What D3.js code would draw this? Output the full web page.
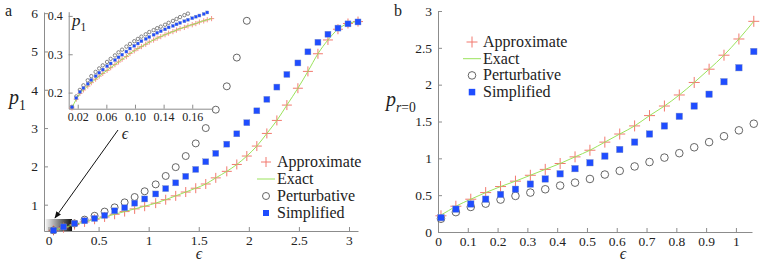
<!DOCTYPE html>
<html>
<head>
<meta charset="utf-8">
<script src="https://cdn.jsdelivr.net/npm/d3@7"></script>
<style>
  body { margin: 0; background: #fff; }
</style>
</head>
<body>
<svg id="chart" width="763" height="263"></svg>
<script>
// ---- panel a, main plot ----
const epsA = [0.05, 0.15, 0.26, 0.36, 0.46, 0.56, 0.66, 0.76, 0.86, 0.96, 1.07, 1.17, 1.27, 1.37, 1.47, 1.57,
  1.67, 1.78, 1.88, 1.98, 2.08, 2.18, 2.28, 2.38, 2.49, 2.59, 2.69, 2.79, 2.89, 2.99, 3.09];
const approxA = [0.33, 0.40, 0.48, 0.55, 0.62, 0.68, 0.75, 0.82, 0.89, 0.96, 1.04, 1.13, 1.23, 1.33, 1.43, 1.54,
  1.70, 1.87, 2.05, 2.27, 2.53, 2.86, 3.20, 3.60, 4.04, 4.48, 4.94, 5.30, 5.58, 5.73, 5.78];
const exactA = [0.33, 0.40, 0.48, 0.55, 0.62, 0.68, 0.75, 0.82, 0.89, 0.96, 1.04, 1.13, 1.23, 1.33, 1.43, 1.54,
  1.70, 1.87, 2.05, 2.27, 2.53, 2.86, 3.20, 3.60, 4.04, 4.48, 4.94, 5.30, 5.58, 5.73, 5.78];
const simplA = [0.33, 0.42, 0.51, 0.58, 0.64, 0.72, 0.84, 0.92, 1.04, 1.15, 1.28, 1.42, 1.57, 1.74, 1.92, 2.12,
  2.34, 2.58, 2.85, 3.14, 3.45, 3.75, 4.07, 4.40, 4.70, 4.99, 5.24, 5.45, 5.61, 5.72, 5.77];
const pertA = [0.33, 0.42, 0.51, 0.61, 0.71, 0.82, 0.93, 1.06, 1.20, 1.35, 1.53, 1.75, 1.98, 2.27, 2.60, 3.00,
  3.48, 4.09, 4.84, 5.80]; // only up to eps ~ 2
const ticksAX = [0, 0.5, 1, 1.5, 2, 2.5, 3];
const labelsAX = ["0", "0.5", "1", "1.5", "2", "2.5", "3"];
const ticksAY = [1, 2, 3, 4, 5, 6];
const labelsAY = ["1", "2", "3", "4", "5", "6"];

// ---- panel a, inset (small eps) ----
const epsI = [0.012, 0.018, 0.023, 0.028, 0.034, 0.039, 0.045, 0.050, 0.055, 0.061, 0.066, 0.072, 0.077,
  0.082, 0.088, 0.093, 0.099, 0.104, 0.109, 0.115, 0.120, 0.126, 0.131, 0.136, 0.142, 0.147, 0.153, 0.158,
  0.163, 0.169, 0.174, 0.180, 0.185, 0.190, 0.196, 0.201, 0.207];
const approxI = [0.160, 0.183, 0.198, 0.207, 0.217, 0.226, 0.235, 0.243, 0.250, 0.258, 0.265, 0.273, 0.280,
  0.287, 0.294, 0.302, 0.309, 0.315, 0.320, 0.326, 0.332, 0.337, 0.342, 0.346, 0.351, 0.355, 0.359, 0.363,
  0.367, 0.370, 0.374, 0.377, 0.380, 0.384, 0.387, 0.390, 0.393];
const simplI = [0.162, 0.186, 0.202, 0.212, 0.223, 0.233, 0.243, 0.252, 0.260, 0.269, 0.276, 0.285, 0.292,
  0.299, 0.307, 0.315, 0.322, 0.328, 0.334, 0.340, 0.345, 0.351, 0.356, 0.360, 0.365, 0.370, 0.374, 0.378,
  0.382, 0.386, 0.390, 0.394, 0.398, 0.401, 0.405, 0.409];
const pertI = [0.163, 0.190, 0.207, 0.219, 0.232, 0.243, 0.254, 0.263, 0.271, 0.280, 0.288, 0.297, 0.305,
  0.312, 0.320, 0.327, 0.334, 0.340, 0.346, 0.352, 0.358, 0.363, 0.368, 0.372, 0.377, 0.382, 0.387, 0.392,
  0.397, 0.402, 0.406];
const ticksIX = [0.02, 0.06, 0.10, 0.14, 0.18];
const labelsIX = ["0.02", "0.06", "0.10", "0.14", "0.16"];
const ticksIY = [0.2, 0.3, 0.4];
const labelsIY = ["0.2", "0.3", "0.4"];

// ---- panel b ----
const epsB = [0.01, 0.06, 0.11, 0.16, 0.21, 0.26, 0.31, 0.36, 0.41, 0.46, 0.51, 0.56, 0.61, 0.66, 0.71, 0.76,
  0.81, 0.86, 0.91, 0.96, 1.01, 1.06];
const approxB = [0.22, 0.35, 0.445, 0.535, 0.617, 0.69, 0.77, 0.85, 0.93, 1.02, 1.11, 1.22, 1.33, 1.44, 1.58,
  1.71, 1.86, 2.03, 2.21, 2.40, 2.62, 2.86];
const epsExactB = [0, 0.01, 0.06, 0.11, 0.16, 0.21, 0.26, 0.31, 0.36, 0.41, 0.46, 0.51, 0.56, 0.61, 0.66, 0.71,
  0.76, 0.81, 0.86, 0.91, 0.96, 1.01, 1.06];
const exactB = [0.21, 0.23, 0.35, 0.445, 0.535, 0.617, 0.69, 0.77, 0.85, 0.93, 1.02, 1.11, 1.22, 1.33, 1.44,
  1.58, 1.71, 1.86, 2.03, 2.21, 2.40, 2.62, 2.86];
const simplB = [0.195, 0.31, 0.38, 0.445, 0.51, 0.58, 0.65, 0.72, 0.79, 0.86, 0.94, 1.03, 1.12, 1.22, 1.33,
  1.44, 1.57, 1.71, 1.87, 2.04, 2.23, 2.45];
const pertB = [0.18, 0.27, 0.34, 0.385, 0.44, 0.49, 0.535, 0.58, 0.63, 0.67, 0.72, 0.78, 0.83, 0.89, 0.95,
  1.01, 1.07, 1.15, 1.22, 1.30, 1.38, 1.47];
const ticksBX = [0, 0.1, 0.2, 0.3, 0.4, 0.5, 0.6, 0.7, 0.8, 0.9, 1];
const labelsBX = ["0", "0.1", "0.2", "0.3", "0.4", "0.5", "0.6", "0.7", "0.8", "0.9", "1"];
const ticksBY = [0, 0.5, 1, 1.5, 2, 2.5, 3];
const labelsBY = ["0", "0.5", "1", "1.5", "2", "2.5", "3"];

const legendNames = ["Approximate", "Exact", "Perturbative", "Simplified"];

const C = { approx: "#f2786e", exact: "#9be35c", pert: "#555", simpl: "#1f4dff", axis: "#8c8c8c", text: "#222" };
const SERIF = "\"Liberation Serif\", \"DejaVu Serif\", serif";

const svg = d3.select("#chart").attr("font-family", SERIF);
const defs = svg.append("defs");

function plus(s) { return `M${-s},0H${s}M0,${-s}V${s}`; }

function txt(g, x, y, fs) {
  return g.append("text").attr("x", x).attr("y", y).attr("font-size", fs)
    .attr("font-family", SERIF).attr("fill", C.text);
}

// draws a left/bottom frame with inward ticks
function axes(g, x, y, tx, lx, ty, ly, fs) {
  const ax = g.append("g").attr("transform", `translate(0,${y.range()[0]})`)
    .call(d3.axisBottom(x).tickValues(tx).tickFormat((d, i) => lx[i]).tickSizeInner(-4).tickSizeOuter(0).tickPadding(4));
  const ay = g.append("g").attr("transform", `translate(${x.range()[0]},0)`)
    .call(d3.axisLeft(y).tickValues(ty).tickFormat((d, i) => ly[i]).tickSizeInner(-4).tickSizeOuter(0).tickPadding(6));
  [ax, ay].forEach(a => {
    a.attr("font-family", SERIF).attr("font-size", fs);
    a.select(".domain").attr("stroke", C.axis);
    a.selectAll(".tick line").attr("stroke", C.axis);
    a.selectAll("text").attr("fill", C.text);
  });
}

function series(g, x, y, eps, approx, epsEx, exact, pert, simpl, sz) {
  g.append("g").selectAll("path").data(approx).join("path")
    .attr("d", plus(sz.p))
    .attr("transform", (d, i) => `translate(${x(eps[i])},${y(d)})`)
    .attr("stroke", C.approx).attr("stroke-width", sz.pw).attr("fill", "none");
  g.append("path")
    .datum(exact)
    .attr("d", d3.line().x((d, i) => x(epsEx[i])).y(d => y(d)).curve(d3.curveMonotoneX))
    .attr("fill", "none").attr("stroke", C.exact).attr("stroke-width", 1);
  g.append("g").selectAll("circle").data(pert).join("circle")
    .attr("cx", (d, i) => x(eps[i])).attr("cy", d => y(d)).attr("r", sz.c)
    .attr("fill", "none").attr("stroke", C.pert).attr("stroke-width", sz.cw);
  g.append("g").selectAll("rect").data(simpl).join("rect")
    .attr("x", (d, i) => x(eps[i]) - sz.s / 2).attr("y", d => y(d) - sz.s / 2)
    .attr("width", sz.s).attr("height", sz.s)
    .attr("fill", C.simpl).attr("stroke", "#8795c0").attr("stroke-width", 0.4);
}

function legend(g, x0, y0, dy, sz) {
  const row = g.append("g").selectAll("g").data(legendNames).join("g")
    .attr("transform", (d, i) => `translate(${x0},${y0 + i * dy})`);
  row.append("text").attr("x", 11).attr("y", 5).attr("font-size", 16)
    .attr("font-family", SERIF).attr("fill", C.text).text(d => d);
  row.filter((d, i) => i === 0).append("path").attr("d", plus(sz.p))
    .attr("stroke", C.approx).attr("stroke-width", sz.pw).attr("fill", "none");
  row.filter((d, i) => i === 1).append("line").attr("x1", -9).attr("x2", 9)
    .attr("stroke", C.exact).attr("stroke-width", 1);
  row.filter((d, i) => i === 2).append("circle").attr("r", sz.c)
    .attr("fill", "none").attr("stroke", C.pert).attr("stroke-width", sz.cw);
  row.filter((d, i) => i === 3).append("rect").attr("x", -sz.s / 2).attr("y", -sz.s / 2)
    .attr("width", sz.s).attr("height", sz.s).attr("fill", C.simpl);
}

// p with a subscript; parts = [[text, italic?], ...]
function pLabel(g, x, y, parts, fs) {
  const t = txt(g, x, y, fs);
  t.append("tspan").attr("font-style", "italic").text("p");
  parts.forEach(([s, it], i) => {
    const sp = t.append("tspan").attr("font-size", fs * 0.68).attr("font-style", it ? "italic" : "normal").text(s);
    if (i === 0) sp.attr("dy", fs * 0.28);
  });
}

// ================= panel a =================
const gA = svg.append("g");
const xA = d3.scaleLinear().domain([-0.045, 3.09]).range([44, 358]);
const yA = d3.scaleLinear().domain([0.313, 6.03]).range([231, 12]);

// shaded box marking the zoomed region
const grad = defs.append("linearGradient").attr("id", "zoomGrad");
grad.append("stop").attr("offset", "0%").attr("stop-color", "#f4f4f4");
grad.append("stop").attr("offset", "100%").attr("stop-color", "#111");
gA.append("rect").attr("x", xA(-0.03)).attr("y", 219).attr("width", xA(0.235) - xA(-0.03)).attr("height", 12)
  .attr("fill", "url(#zoomGrad)");

axes(gA, xA, yA, ticksAX, labelsAX, ticksAY, labelsAY, 13.5);
series(gA, xA, yA, epsA, approxA, epsA, exactA, pertA, simplA, { p: 5, pw: 1, c: 3.5, cw: 0.9, s: 6 });
legend(gA, 266, 162, 17, { p: 5, pw: 1, c: 3.5, cw: 0.9, s: 6 });

txt(gA, 5, 16, 16).text("a");
pLabel(gA, 9, 104, [["1", false]], 20);
txt(gA, 199, 259, 16).attr("font-style", "italic").attr("text-anchor", "middle").text("ϵ");

// inset
const gI = gA.append("g");
const xI = d3.scaleLinear().domain([0.0074, 0.209]).range([68.7, 213]);
const yI = d3.scaleLinear().domain([0.158, 0.411]).range([108.7, 11.7]);
axes(gI, xI, yI, ticksIX, labelsIX, ticksIY, labelsIY, 12);
series(gI, xI, yI, epsI, approxI, epsI, approxI, pertI, simplI, { p: 2.6, pw: 0.8, c: 1.7, cw: 0.7, s: 3 });
pLabel(gI, 72, 26, [["1", false]], 17);
txt(gI, 125, 139, 16).attr("font-style", "italic").attr("text-anchor", "middle").text("ϵ");

// arrow from inset to the shaded box
defs.append("marker").attr("id", "head").attr("viewBox", "0 0 10 10").attr("refX", 9).attr("refY", 5)
  .attr("markerWidth", 7).attr("markerHeight", 7).attr("orient", "auto")
  .append("path").attr("d", "M0,1L10,5L0,9z").attr("fill", "#111");
gA.append("line").attr("x1", 118).attr("y1", 130).attr("x2", 55).attr("y2", 218)
  .attr("stroke", "#111").attr("stroke-width", 1).attr("marker-end", "url(#head)");

// ================= panel b =================
const gB = svg.append("g");
const xB = d3.scaleLinear().domain([0, 1.054]).range([438, 752]);
const yB = d3.scaleLinear().domain([0, 3]).range([232, 11]);
axes(gB, xB, yB, ticksBX, labelsBX, ticksBY, labelsBY, 13.5);
series(gB, xB, yB, epsB, approxB, epsExactB, exactB, pertB, simplB, { p: 5.5, pw: 1, c: 3.8, cw: 0.9, s: 6.5 });
legend(gB, 472, 42, 16.7, { p: 5.5, pw: 1, c: 3.8, cw: 0.9, s: 6.5 });

txt(gB, 394, 16, 16).text("b");
pLabel(gB, 386, 106, [["r", true], ["=0", false]], 20);
txt(gB, 623, 259, 16).attr("font-style", "italic").attr("text-anchor", "middle").text("ϵ");
</script>
</body>
</html>
